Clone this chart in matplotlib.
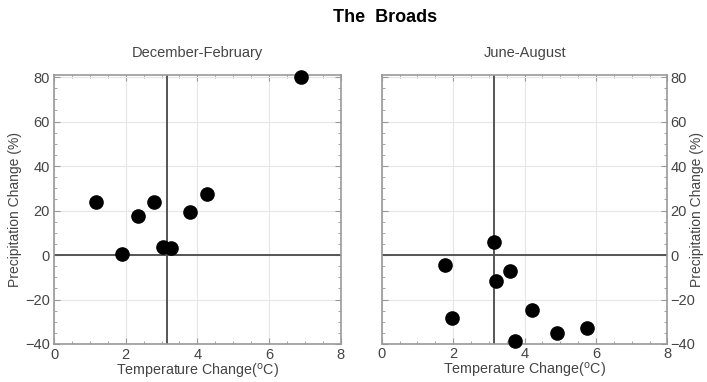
import matplotlib.pyplot as plt
from matplotlib.ticker import MultipleLocator

plt.rcParams['font.family'] = ['Liberation Sans', 'DejaVu Sans']

# temperature change (degC) and precipitation change (%) per model run
winter_temp = [1.18, 1.91, 2.33, 2.80, 3.05, 3.26, 3.78, 4.28, 6.90]
winter_precip = [24.0, 0.5, 17.7, 24.0, 3.4, 3.0, 19.3, 27.3, 80.0]
summer_temp = [1.77, 1.97, 3.13, 3.19, 3.59, 4.20, 3.72, 4.90, 5.76]
summer_precip = [-4.5, -28.5, 6.0, -11.5, -7.0, -24.7, -38.5, -34.9, -33.0]
mean_temp = 3.15
seasons = ["December-February", "June-August"]

text_col = "#444444"
frame_col = "#999999"

fig = plt.figure(figsize=(7.07, 3.82), dpi=100)
ax1 = fig.add_axes([0.0764, 0.0995, 0.4056, 0.7045])
ax2 = fig.add_axes([0.540, 0.0995, 0.404, 0.7045])

for ax, xs, ys, name in [(ax1, winter_temp, winter_precip, seasons[0]),
                         (ax2, summer_temp, summer_precip, seasons[1])]:
    ax.set_xlim(0, 8)
    ax.set_ylim(-40, 81)
    ax.xaxis.set_major_locator(MultipleLocator(2))
    ax.xaxis.set_minor_locator(MultipleLocator(0.5))
    ax.yaxis.set_major_locator(MultipleLocator(20))
    ax.yaxis.set_minor_locator(MultipleLocator(5))
    ax.grid(True, which='major', color='#e6e6e6', linewidth=0.8)
    ax.set_axisbelow(True)
    ax.tick_params(which='both', direction='in', top=True, right=True,
                   left=True, bottom=True, colors=frame_col,
                   labelcolor=text_col, labelsize=10.5, pad=3)
    ax.tick_params(which='major', length=4)
    ax.tick_params(which='minor', length=2.5)
    for s in ax.spines.values():
        s.set_color(frame_col)
        s.set_linewidth(1.2)
    ax.axhline(0, color='#555555', linewidth=1.4)
    ax.axvline(mean_temp, color='#555555', linewidth=1.4)
    ax.plot(xs, ys, 'o', color='black', markersize=9.5, clip_on=False, zorder=5)
    ax.set_title(name, color=text_col, fontsize=10.5, pad=13)
    ax.set_xlabel("Temperature Change($^{\\rm o}$C)", color=text_col,
                  fontsize=10.3, labelpad=0)
    ax.set_ylabel("Precipitation Change (%)", color=text_col, fontsize=10,
                  labelpad=2)

ax2.yaxis.tick_right()
ax2.yaxis.set_label_position("right")
ax2.tick_params(which='both', left=True, right=True, pad=2)
# keep the right-hand label just inside the figure edge
ax2.yaxis.set_label_coords(1.105, 0.5)
ax2.yaxis.label.set(rotation=90, ha='center', va='center',
                    rotation_mode='default')

fig.text(0.545, 0.953, "The  Broads", ha='center', va='center',
         fontsize=13, fontweight='bold', color='black')

fig.savefig("out.png", dpi=100)
